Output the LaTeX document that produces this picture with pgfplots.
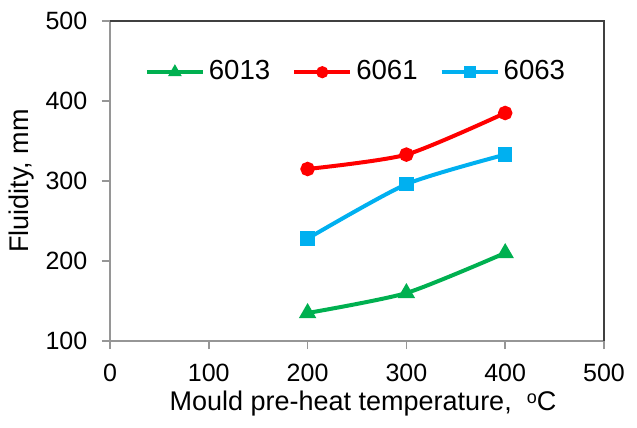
\documentclass[border=0pt]{standalone}
\usepackage{fontspec}
\setmainfont{Liberation Sans}
\usepackage{pgfplots}
\pgfplotsset{compat=1.18}

\definecolor{cgreen}{RGB}{0,176,80}
\definecolor{cred}{RGB}{255,0,0}
\definecolor{cblue}{RGB}{0,176,240}
\definecolor{axgray}{RGB}{150,150,150}

\begin{document}
\fontsize{12.5}{15}\selectfont
\begin{tikzpicture}
\useasboundingbox (-55pt,-43.5pt) rectangle (263.5pt,170.5pt);
\begin{axis}[
  at={(0,0)}, anchor=south west,
  scale only axis,
  width=247pt, height=160pt,
  xmin=0, xmax=500, ymin=100, ymax=500,
  xtick={0,100,...,500}, ytick={100,200,...,500},
  xtick pos=left, ytick pos=left,
  tick align=outside, major tick length=4pt,
  tick style={axgray, line width=0.8pt},
  axis line style={draw=none},
  /pgf/number format/assume math mode=true,
  ticklabel style={font=\fontsize{12.5}{15}\selectfont},
  xticklabel style={yshift=-3pt},
  yticklabel style={xshift=-3pt},
  xlabel={Mould pre-heat temperature,\ \ \raisebox{0.45ex}{\fontsize{9}{10}\selectfont o}C},
  ylabel={Fluidity, mm},
  label style={font=\fontsize{13.5}{16}\selectfont},
  xlabel style={yshift=4pt, xshift=3pt},
  ylabel style={yshift=-3pt},
  legend columns=3,
  legend style={draw=none, fill=none, at={(0.5,0.84)}, anchor=center,
    font=\fontsize{13.8}{16}\selectfont,
    /tikz/every even column/.append style={column sep=9pt}},
  legend image code/.code={%
    \draw[#1, mark=none] (0pt,0pt) -- (28pt,0pt);
    \draw[#1, mark size=2pt] plot coordinates {(14pt,0pt)};},
  clip=false,
]
% frame: light left/bottom, dark top/right
\draw[axgray, line width=0.8pt] (rel axis cs:0,1) -- (rel axis cs:0,0) -- (rel axis cs:1,0);
\draw[black!75, line width=0.9pt] (rel axis cs:0,1) -- (rel axis cs:1,1) -- (rel axis cs:1,0);

\addplot[cgreen, line width=2pt, smooth, tension=0.4, mark=triangle*, mark size=3pt]
  coordinates {(200,135) (300,160) (400,210)};
\addlegendentry{6013}
\addplot[cred, line width=2pt, smooth, tension=0.4, mark=*, mark size=2.6pt]
  coordinates {(200,315) (300,333) (400,385)};
\addlegendentry{6061}
\addplot[cblue, line width=2pt, smooth, tension=0.4, mark=square*, mark size=2.6pt]
  coordinates {(200,228) (300,296) (400,333)};
\addlegendentry{6063}
\end{axis}
\end{tikzpicture}
\end{document}
